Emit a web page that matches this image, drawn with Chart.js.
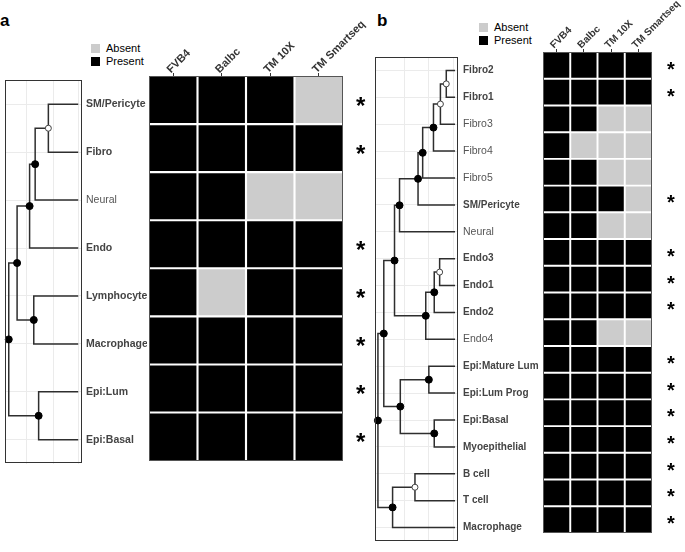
<!DOCTYPE html>
<html>
<head>
<meta charset="utf-8">
<script src="https://cdn.jsdelivr.net/npm/chart.js@4.4.1/dist/chart.umd.min.js"></script>
<style>
  body { margin: 0; background: #fff; }
  #page { position: relative; width: 685px; height: 552px; overflow: hidden;
          font-family: 'Liberation Sans', Arial, sans-serif; }
  canvas { position: absolute; }
  .tag { position: absolute; font-weight: bold; font-size: 17px; line-height: 17px; color: #000; }
  .legend { position: absolute; font-size: 11px; line-height: 13px; color: #000; }
  .legend div { height: 13px; white-space: nowrap; }
  .legend .sw { display: inline-block; width: 9px; height: 9px; margin-right: 6px; vertical-align: -1px; }
</style>
</head>
<body>
<div id="page">
  <div class="tag" style="left:0px;top:12px;">a</div>
  <div class="tag" style="left:377px;top:12px;">b</div>
  <div class="legend" style="left:91px;top:42px;">
    <div><span class="sw" style="background:#cccccc"></span>Absent</div>
    <div><span class="sw" style="background:#000"></span>Present</div>
  </div>
  <div class="legend" style="left:479px;top:21px;">
    <div><span class="sw" style="background:#cccccc"></span>Absent</div>
    <div><span class="sw" style="background:#000"></span>Present</div>
  </div>
  <canvas id="treeA" width="147" height="404" style="left:0px;top:70px;"></canvas>
  <canvas id="heatA" width="230" height="480" style="left:140px;top:0px;"></canvas>
  <canvas id="treeB" width="172" height="506" style="left:370px;top:46px;"></canvas>
  <canvas id="heatB" width="150" height="552" style="left:535px;top:0px;"></canvas>
</div>
<script>
/* ---------- data ---------- */
const columns = ['FVB4', 'Balbc', 'TM 10X', 'TM Smartseq'];

// panel a
const leavesA = ['SM/Pericyte', 'Fibro', 'Neural', 'Endo', 'Lymphocyte', 'Macrophage', 'Epi:Lum', 'Epi:Basal'];
const starA = [1, 1, 0, 1, 1, 1, 1, 1];
const presentA = [
  [1, 1, 1, 0],
  [1, 1, 1, 1],
  [1, 1, 0, 0],
  [1, 1, 1, 1],
  [1, 0, 1, 1],
  [1, 1, 1, 1],
  [1, 1, 1, 1],
  [1, 1, 1, 1]
];
// merges: negative = leaf number, positive = earlier merge number
const mergeA = [[-1, -2], [1, -3], [2, -4], [-5, -6], [3, 4], [-7, -8], [5, 6]];
const heightA = [0.57, 0.38, 0.30, 0.36, 0.12, 0.43, 0];
const supportA = [0, 1, 1, 1, 1, 1, 1];
const gridA = [0.26, 0.64, 1.0];

// panel b
const leavesB = ['Fibro2', 'Fibro1', 'Fibro3', 'Fibro4', 'Fibro5', 'SM/Pericyte', 'Neural',
  'Endo3', 'Endo1', 'Endo2', 'Endo4', 'Epi:Mature Lum', 'Epi:Lum Prog', 'Epi:Basal',
  'Myoepithelial', 'B cell', 'T cell', 'Macrophage'];
const starB = [1, 1, 0, 0, 0, 1, 0, 1, 1, 1, 0, 1, 1, 1, 1, 1, 1, 1];
const presentB = [
  [1, 1, 1, 1],
  [1, 1, 1, 1],
  [1, 1, 0, 0],
  [1, 0, 0, 0],
  [1, 1, 0, 0],
  [1, 1, 1, 0],
  [1, 1, 0, 0],
  [1, 1, 1, 1],
  [1, 1, 1, 1],
  [1, 1, 1, 1],
  [1, 1, 0, 0],
  [1, 1, 1, 1],
  [1, 1, 1, 1],
  [1, 1, 1, 1],
  [1, 1, 1, 1],
  [1, 1, 1, 1],
  [1, 1, 1, 1],
  [1, 1, 1, 1]
];
const mergeB = [[-1, -2], [1, -3], [2, -4], [3, -5], [4, -6], [5, -7], [-8, -9], [7, -10], [8, -11],
  [6, 9], [-12, -13], [-14, -15], [11, 12], [10, 13], [-16, -17], [15, -18], [14, 16]];
const heightB = [0.886, 0.81, 0.72, 0.58, 0.52, 0.28, 0.80, 0.73, 0.62, 0.215, 0.66, 0.73, 0.29, 0.076, 0.48, 0.19, 0];
const supportB = [0, 0, 1, 1, 1, 1, 0, 1, 1, 1, 1, 1, 1, 1, 0, 1, 1];
const gridB = [0.34, 0.66, 0.98];

/* ---------- helpers ---------- */
const FONT = "'Liberation Sans', Arial, sans-serif";

const frame = {
  id: 'frame',
  afterDraw(chart, args, opts) {
    const { ctx, chartArea: a } = chart;
    ctx.save();
    ctx.strokeStyle = opts.color || '#333';
    ctx.lineWidth = 1;
    ctx.strokeRect(Math.round(a.left) + 0.5, Math.round(a.top) + 0.5,
      Math.round(a.width) - 1, Math.round(a.height) - 1);
    ctx.restore();
  }
};

// turn merge table into elbow links + node points
function buildTree(merge, height, support) {
  const pos = [];
  const at = c => c < 0 ? { x: 1, y: -c } : pos[c - 1];
  const links = [], nodes = [];
  merge.forEach((m, i) => {
    const a = at(m[0]), b = at(m[1]);
    const p = { x: height[i], y: (a.y + b.y) / 2 };
    pos.push(p);
    links.push([{ x: a.x, y: a.y }, { x: p.x, y: a.y }, { x: p.x, y: b.y }, { x: b.x, y: b.y }]);
    nodes.push({ x: p.x, y: p.y, s: support[i] });
  });
  return { links, nodes };
}

function drawTree(id, o) {
  const t = buildTree(o.merge, o.height, o.support);
  const datasets = [{
    data: t.nodes,
    pointRadius: t.nodes.map(n => n.s ? 3.5 : 3),
    pointBackgroundColor: t.nodes.map(n => n.s ? '#000' : '#fff'),
    pointBorderColor: t.nodes.map(n => n.s ? '#000' : '#444'),
    pointBorderWidth: 1,
    order: 0,
    clip: false
  }].concat(t.links.map(l => ({
    data: l,
    showLine: true,
    borderColor: '#2e2e2e',
    borderWidth: 1.5,
    pointRadius: 0,
    order: 1,
    clip: false
  })));

  new Chart(document.getElementById(id), {
    type: 'scatter',
    data: { datasets },
    options: {
      responsive: false,
      animation: false,
      events: [],
      layout: { padding: o.pad },
      plugins: { legend: { display: false }, tooltip: { enabled: false }, frame: { color: '#333' } },
      scales: {
        x: {
          type: 'linear', min: o.xmin, max: o.xmax,
          afterBuildTicks: s => { s.ticks = o.grid.map(v => ({ value: v })); },
          ticks: { display: false },
          grid: { color: '#ebebeb', drawTicks: false },
          border: { display: false },
          afterFit: s => { s.height = 0; }
        },
        y: {
          type: 'linear', position: 'right', reverse: true,
          min: 0.5, max: o.leaves.length + 0.5,
          afterBuildTicks: s => { s.ticks = o.leaves.map((_, i) => ({ value: i + 1 })); },
          ticks: {
            autoSkip: false,
            padding: o.labelPad,
            callback: (v, i) => o.leaves[i],
            color: ctx => o.stars[ctx.index] ? '#444' : '#555',
            font: ctx => o.stars[ctx.index]
              ? { family: FONT, size: o.boldSize, weight: 'bold' }
              : { family: FONT, size: o.regSize, weight: 'normal' }
          },
          grid: { color: '#ebebeb', drawTicks: false },
          border: { display: false },
          afterFit: s => { s.width = o.axisW; }
        }
      }
    },
    plugins: [frame]
  });
}

function drawHeat(id, o) {
  const n = o.leaves.length;
  const g = o.gap;
  const datasets = o.present.map((row, i) => ({
    label: o.leaves[i],
    data: row.map(() => 1),
    backgroundColor: row.map(v => v ? '#000000' : '#cccccc'),
    borderColor: '#ffffff',
    borderWidth: row.map((_, j) => ({
      left: j === 0 ? 0 : g,
      right: j === row.length - 1 ? 0 : g,
      top: i === 0 ? 0 : g,
      bottom: i === n - 1 ? 0 : g
    })),
    borderSkipped: false,
    barPercentage: 1,
    categoryPercentage: 1
  }));

  new Chart(document.getElementById(id), {
    type: 'bar',
    data: { labels: columns, datasets },
    options: {
      responsive: false,
      animation: false,
      events: [],
      layout: { padding: o.pad },
      plugins: { legend: { display: false }, tooltip: { enabled: false }, frame: { color: '#555' } },
      scales: {
        x: {
          stacked: true, position: 'top',
          grid: { offset: false, drawOnChartArea: false, drawTicks: true, tickLength: 3, color: '#333' },
          border: { display: false },
          ticks: {
            minRotation: 45, maxRotation: 45, autoSkip: false,
            padding: o.colPad, labelOffset: o.colShift,
            color: '#333', font: { family: FONT, size: o.colSize, weight: 'bold' }
          },
          afterFit: s => { s.height = o.axisH; }
        },
        y: {
          stacked: true, position: 'right', reverse: true, min: 0, max: n,
          grid: { display: false },
          border: { display: false },
          afterBuildTicks: s => { s.ticks = o.leaves.map((_, i) => ({ value: i + 0.5 })); },
          ticks: {
            autoSkip: false, padding: o.starPad, labelOffset: o.starDrop,
            callback: (v, i) => o.stars[i] ? '*' : '',
            color: '#000', font: { family: FONT, size: o.starSize, weight: 'bold' }
          },
          afterFit: s => { s.width = o.axisW; }
        }
      }
    },
    plugins: [frame]
  });
}

/* ---------- panel a ---------- */
drawTree('treeA', {
  leaves: leavesA, stars: starA, merge: mergeA, height: heightA, support: supportA, grid: gridA,
  xmin: -0.054, xmax: 1.054, pad: { left: 0, top: 6, bottom: 7, right: 0 },
  axisW: 65, labelPad: 4, boldSize: 10.5, regSize: 10.5
});
drawHeat('heatA', {
  leaves: leavesA, stars: starA, present: presentA, gap: 1.4,
  pad: { left: 9, top: 0, bottom: 13, right: 0 }, axisH: 76, axisW: 27,
  colSize: 11, colPad: -3, colShift: 5, starSize: 24, starPad: 5, starDrop: 7
});

/* ---------- panel b ---------- */
drawTree('treeB', {
  leaves: leavesB, stars: starB, merge: mergeB, height: heightB, support: supportB, grid: gridB,
  xmin: -0.038, xmax: 1.038, pad: { left: 3, top: 6, bottom: 1, right: 0 },
  axisW: 84, labelPad: 5, boldSize: 10, regSize: 10.5
});
drawHeat('heatB', {
  leaves: leavesB, stars: starB, present: presentB, gap: 1.3,
  pad: { left: 8, top: 0, bottom: 1, right: 0 }, axisH: 52, axisW: 33,
  colSize: 10, colPad: -2, colShift: 4, starSize: 20, starPad: 7, starDrop: 5
});
</script>
</body>
</html>
